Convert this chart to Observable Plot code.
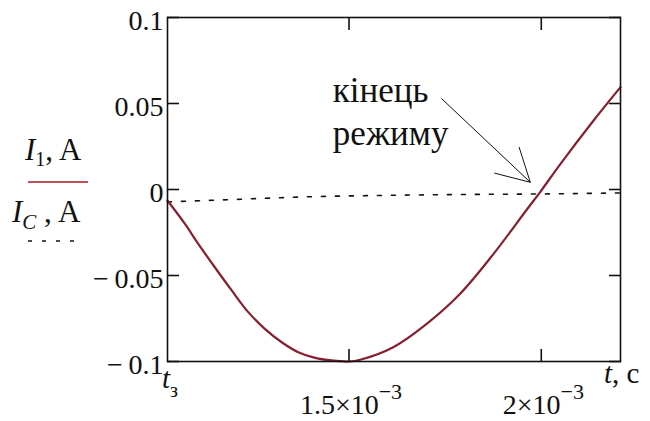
<!DOCTYPE html>
<html><head><meta charset="utf-8">
<script src="https://cdn.jsdelivr.net/npm/d3@7"></script>
<script src="https://cdn.jsdelivr.net/npm/@observablehq/plot@0.6"></script>
<style>body{margin:0;background:#fff} svg{display:block}</style>
</head><body><div id="chart"></div>
<script>
// I1 (current of branch 1), A vs time t, s
const t1 = [1.028e-3,1.073e-3,1.108e-3,1.151e-3,1.195e-3,1.238e-3,1.281e-3,1.325e-3,1.368e-3,1.412e-3,1.455e-3,1.500e-3,1.529e-3,1.615e-3,1.702e-3,1.789e-3,1.876e-3,1.963e-3,1.997e-3,2.050e-3,2.136e-3,2.206e-3];
const i1 = [-0.0064,-0.0199,-0.0316,-0.0452,-0.0587,-0.0713,-0.0810,-0.0888,-0.0946,-0.0979,-0.0994,-0.1000,-0.0990,-0.0917,-0.0781,-0.0606,-0.0374,-0.0115,-0.0015,0.0149,0.0401,0.0595];
// IC (capacitor current), A
const tC = [1.028e-3,1.2e-3,1.4e-3,1.6e-3,1.8e-3,2.0e-3,2.206e-3];
const iC = [-0.0072,-0.0058,-0.0042,-0.0034,-0.0029,-0.0026,-0.0020];

const xDomain = [1.028e-3, 2.206e-3];
const yDomain = [-0.1, 0.1];
const yTicks = [-0.1, -0.05, 0, 0.05, 0.1];
const yTickLabels = ["\u2212\u20090.1", "\u2212\u20090.05", "0", "0.05", "0.1"];
const xTicks = [1.5e-3, 2e-3];
const xTickMantissa = ["1.5\u00d710", "2\u00d710"];
const xTickExponent = "\u22123";

const noteText = ["кінець", "режиму"];
const noteAnchor = {t: 1.458e-3, i: 0.0256};
const arrowFrom = {t: 1.7414e-3, i: 0.0527};
const arrowTo = {t: 1.9714e-3, i: 0.0042};

const seriesI1 = t1.map((t, k) => ({t, v: i1[k]}));
const seriesIC = tC.map((t, k) => ({t, v: iC[k]}));

const FONT = "Liberation Serif";
const blank = () => "";

const plot = Plot.plot({
  width: 650, height: 421,
  marginLeft: 167, marginRight: 30, marginTop: 17, marginBottom: 60,
  style: {fontSize: "28px", color: "#111", background: "#fff"},
  x: {domain: xDomain, label: null},
  y: {domain: yDomain, label: null},
  marks: [
    Plot.line(seriesIC, {x: "t", y: "v", stroke: "#111", strokeWidth: 1.6, strokeDasharray: "4,10", curve: "monotone-x"}),
    Plot.line(seriesI1, {x: "t", y: "v", stroke: "#862030", strokeWidth: 2.2, curve: "catmull-rom"}),
    Plot.frame({stroke: "#111", strokeWidth: 1.6}),
    Plot.axisY({ticks: yTicks, tickSize: -12, tickFormat: blank, strokeWidth: 1.6}),
    Plot.axisY({anchor: "right", ticks: yTicks, tickSize: -12, tickFormat: blank, strokeWidth: 1.6}),
    Plot.axisX({ticks: xTicks, tickSize: -12, tickFormat: blank, strokeWidth: 1.6}),
    Plot.axisX({anchor: "top", ticks: xTicks, tickSize: -12, tickFormat: blank, strokeWidth: 1.6}),
    Plot.axisY({ticks: yTicks, tickSize: 0, tickPadding: 4, dy: 4, fontSize: 28,
      tickFormat: d => yTickLabels[yTicks.indexOf(d)]}),
    Plot.axisX({ticks: xTicks, tickSize: 0, tickPadding: 33, fontSize: 28, dx: 2,
      tickFormat: d => xTickMantissa[xTicks.indexOf(d)]}),
    Plot.text([noteText.join("\n")], {x: () => noteAnchor.t, y: () => noteAnchor.i, text: d => d,
      textAnchor: "start", lineAnchor: "bottom", lineHeight: 1.23, fontSize: 35, fill: "#111"}),
    Plot.arrow([0], {x1: () => arrowFrom.t, y1: () => arrowFrom.i, x2: () => arrowTo.t, y2: () => arrowTo.i,
      stroke: "#111", strokeWidth: 1, headLength: 55, headAngle: 58})
  ]
});

const svg = d3.select(plot);
// superscript exponent on x tick labels (only the labelled axis)
svg.selectAll('g[aria-label="x-axis tick label"] text').each(function() {
  if (this.textContent !== "") {
    d3.select(this).append("tspan").attr("dy", "-0.7em").attr("font-size", "22px").text(xTickExponent);
  }
});

// legend / axis names
function label(x, y, parts, size) {
  const t = svg.append("text").attr("x", x).attr("y", y).attr("text-anchor", "start")
    .attr("font-size", size).attr("fill", "#111");
  parts.forEach(p => {
    const s = t.append("tspan").text(p.text);
    if (p.italic) s.attr("font-style", "italic");
    if (p.size) s.attr("font-size", p.size);
    if (p.dy) s.attr("dy", p.dy);
  });
}
label(25, 160, [{text: "I", italic: true}, {text: "1", size: 20, dy: 6}, {text: ", A", dy: -6}], 31);
svg.append("line").attr("x1", 28).attr("x2", 88).attr("y1", 182).attr("y2", 182).attr("stroke", "#c0505a").attr("stroke-width", 2);
label(12, 222, [{text: "I", italic: true}, {text: "C", italic: true, size: 21, dy: 7}, {text: " , A", dy: -7}], 31);
svg.append("line").attr("x1", 28).attr("x2", 80).attr("y1", 241).attr("y2", 241).attr("stroke", "#111").attr("stroke-width", 1.6).attr("stroke-dasharray", "4,10");
label(604, 383, [{text: "t", italic: true}, {text: ", с"}], 29);
label(162, 388, [{text: "t", italic: true}, {text: "з", size: 20, dy: 9}], 29);

// serif everywhere
svg.attr("font-family", FONT);
svg.selectAll("text, tspan").attr("font-family", FONT)
  .each(function() { this.style.setProperty("font-family", FONT, "important"); });

document.getElementById("chart").appendChild(plot);
</script>
</body></html>
